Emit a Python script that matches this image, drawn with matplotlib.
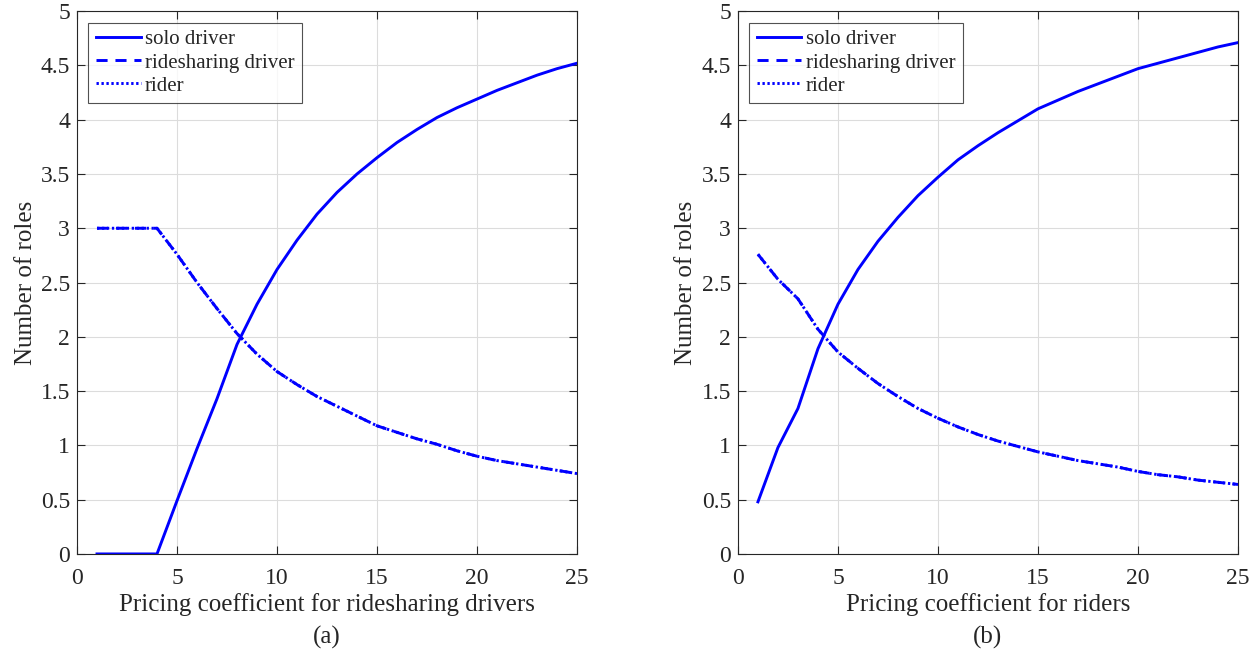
import matplotlib.pyplot as plt
import numpy as np

plt.rcParams['font.family'] = ['Liberation Serif', 'DejaVu Serif']

x = np.arange(1, 26)

# panel (a): pricing coefficient for ridesharing drivers
solo_a = [0, 0, 0, 0, 0.49, 0.97, 1.43, 1.93, 2.30, 2.62, 2.89, 3.13, 3.33, 3.50,
          3.65, 3.79, 3.91, 4.02, 4.11, 4.19, 4.27, 4.34, 4.41, 4.47, 4.52]
rs_driver_a = [3, 3, 3, 3, 2.76, 2.50, 2.26, 2.03, 1.84, 1.68, 1.56, 1.45, 1.36, 1.27,
               1.18, 1.12, 1.06, 1.01, 0.95, 0.90, 0.86, 0.83, 0.80, 0.77, 0.74]
rider_a = list(rs_driver_a)

# panel (b): pricing coefficient for riders
solo_b = [0.48, 0.98, 1.34, 1.89, 2.30, 2.62, 2.88, 3.10, 3.30, 3.47, 3.63, 3.76, 3.88,
          3.99, 4.10, 4.18, 4.26, 4.33, 4.40, 4.47, 4.52, 4.57, 4.62, 4.67, 4.71]
rs_driver_b = [2.76, 2.53, 2.35, 2.07, 1.86, 1.71, 1.57, 1.45, 1.34, 1.25, 1.17, 1.10,
               1.04, 0.99, 0.94, 0.90, 0.86, 0.83, 0.80, 0.76, 0.73, 0.71, 0.68, 0.66, 0.64]
rider_b = list(rs_driver_b)

xlabels = ['Pricing coefficient for ridesharing drivers', 'Pricing coefficient for riders']
tags = ['(a)', '(b)']
legend_names = ['solo driver', 'ridesharing driver', 'rider']

fig = plt.figure(figsize=(12.58, 6.54), dpi=100)
ax_a = fig.add_axes([0.0612, 0.153, 0.3975, 0.830])
ax_b = fig.add_axes([0.5866, 0.153, 0.3975, 0.830])

panels = [(ax_a, solo_a, rs_driver_a, rider_a), (ax_b, solo_b, rs_driver_b, rider_b)]
blue = (0, 0, 1)
dark = '#262626'
lw = 2.1

for k, (ax, solo, rsd, rid) in enumerate(panels):
    ax.plot(x, solo, '-', color=blue, lw=lw, label=legend_names[0])
    ax.plot(x, rsd, color=blue, lw=lw, dashes=(3.8, 2.7), label=legend_names[1])
    ax.plot(x, rid, color=blue, lw=lw, dashes=(0.8, 0.9), label=legend_names[2])
    ax.set_xlim(0, 25)
    ax.set_ylim(0, 5)
    ax.set_xticks(np.arange(0, 26, 5))
    ax.set_yticks(np.arange(0, 5.01, 0.5))
    ax.set_yticklabels(['0', '0.5', '1', '1.5', '2', '2.5', '3', '3.5', '4', '4.5', '5'])
    ax.grid(True, color='#dcdcdc', lw=0.8)
    ax.set_axisbelow(True)
    ax.tick_params(direction='in', top=True, right=True, labelsize=17,
                   length=6, color=dark, labelcolor=dark)
    ax.tick_params(axis='y', pad=5)
    ax.tick_params(axis='x', pad=10)
    for s in ax.spines.values():
        s.set_color(dark)
        s.set_linewidth(0.8)
    ax.set_xlabel(xlabels[k], fontsize=18, color=dark, labelpad=3)
    ax.set_ylabel('Number of roles', fontsize=18, color=dark, labelpad=3)
    leg = ax.legend(loc='upper left', fontsize=15, frameon=True, fancybox=False,
                    edgecolor=dark, borderpad=0.35, labelspacing=0.17,
                    handlelength=2.15, handletextpad=0.2, borderaxespad=0.55)
    leg.get_frame().set_linewidth(0.8)
    for t in leg.get_texts():
        t.set_color(dark)
    ax.text(0.5, -0.132, tags[k], transform=ax.transAxes, ha='center', va='top',
            fontsize=18, color=dark)

fig.savefig('out.png', dpi=100)
